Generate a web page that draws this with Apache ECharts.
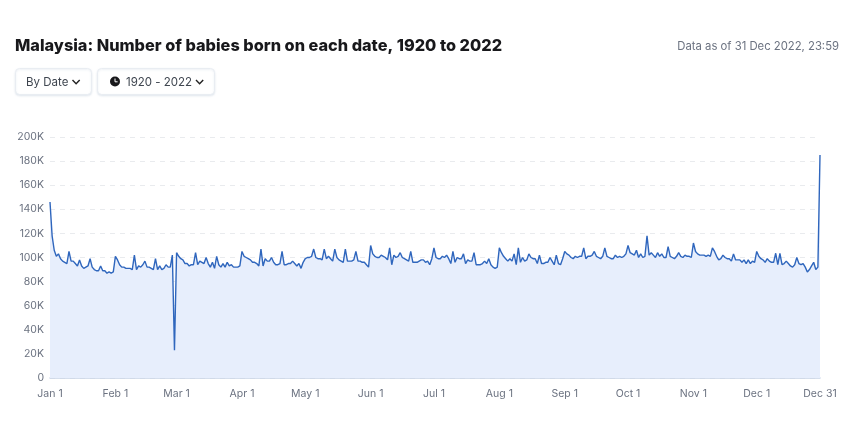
<!DOCTYPE html>
<html><head><meta charset="utf-8">
<style>html,body{margin:0;padding:0;background:#fff}#c{width:857px;height:436px}</style>
<script src="https://cdn.jsdelivr.net/npm/echarts@6/dist/echarts.min.js"></script>
</head><body><div id="c"></div>
<script>
const monthNames = ['Jan','Feb','Mar','Apr','May','Jun','Jul','Aug','Sep','Oct','Nov','Dec'];
const jan = [146,118,106,101,103,99,97,96,95,105,97,97,95,93,98,93,91,92,93,99,92,90,89,89,93,89,89,87,88,87,88];
const feb = [101,98,94,92,92,91,91,91,90,102,90,93,92,94,97,92,92,91,90,99,90,93,90,91,94,92,92,102,23];
const mar = [104,101,99,98,95,95,93,94,94,104,94,97,96,95,100,95,92,96,91,101,94,92,95,92,96,93,94,92,92,92,93];
const apr = [105,101,100,99,98,96,96,95,93,107,93,99,97,97,100,96,94,94,95,105,94,94,95,95,97,95,93,95,91,96];
const may = [99,100,100,101,107,100,99,99,98,107,99,101,99,97,107,100,98,97,96,107,97,97,97,98,105,97,97,96,96,94,92];
const jun = [110,103,101,100,100,102,101,100,98,108,94,102,100,101,104,100,99,98,97,105,96,96,96,97,98,98,96,97,94,99];
const jul = [108,100,99,99,101,100,102,99,95,105,96,100,99,99,103,95,98,97,97,104,94,94,94,95,97,95,99,94,92,91,92];
const aug = [108,104,101,99,97,99,97,103,94,108,96,100,97,98,103,100,99,99,95,102,95,95,96,96,100,97,94,102,95,94,99];
const sep = [105,103,102,100,99,101,100,101,101,108,99,101,101,102,105,101,100,99,101,108,101,100,99,99,102,100,101,100,101,103];
const oct = [110,104,103,102,106,100,103,100,101,118,102,104,102,100,104,101,103,100,100,109,101,100,99,101,104,101,100,102,101,101,100];
const nov = [112,105,103,102,102,102,101,102,101,108,105,101,98,99,102,100,99,99,97,103,98,98,98,96,98,95,98,95,97,96];
const dec = [105,101,99,98,96,99,97,96,96,103.5,94,103.5,94,95,97,95,93,92,94,100,95,94,95,92,88,90,93,96,90,92,185];
const months = [jan,feb,mar,apr,may,jun,jul,aug,sep,oct,nov,dec];
const categories = [], values = [];
months.forEach((m,i)=>m.forEach((v,d)=>{categories.push(monthNames[i]+' '+(d+1)); values.push(v*1000);}));

const uiFont = 'Inter, "Noto Sans", sans-serif';
const gray = '#6b7280';
const btn = (x,w)=>({type:'rect',shape:{x:x+.5,y:68.5,width:w,height:26,r:4},
  style:{fill:'#fff',stroke:'#e9edf2',lineWidth:1,shadowBlur:2,shadowOffsetY:1,shadowColor:'rgba(170,185,205,.3)'}});
const txt = (x,t)=>({type:'text',x,y:82.5,style:{text:t,font:'11.5px '+uiFont,fill:'#3f4650',textVerticalAlign:'middle'}});
const chev = (x)=>({type:'polyline',shape:{points:[[x,80],[x+3.6,83.8],[x+7.2,80]]},style:{stroke:'#222',fill:null,lineWidth:1.4}});

const chart = echarts.init(document.getElementById('c'),null,{renderer:'canvas'});
chart.setOption({
  animation:false,
  title:[
    {text:'Malaysia: Number of babies born on each date, 1920 to 2022',left:15,top:38,padding:0,
     textStyle:{fontFamily:'Inter',fontWeight:800,fontSize:16.3,color:'#18181b'}},
    {text:'Data as of 31 Dec 2022, 23:59',right:18,top:41,padding:0,
     textStyle:{fontFamily:uiFont,fontWeight:'normal',fontSize:11.3,color:gray}}
  ],
  grid:{left:50,right:37,top:137,bottom:58,containLabel:false},
  xAxis:{type:'category',boundaryGap:false,data:categories,
    axisTick:{show:false},
    axisLine:{show:true,lineStyle:{color:'#c7d3e6',width:1.5}},
    splitLine:{show:false},
    axisLabel:{color:gray,fontFamily:uiFont,fontSize:10.5,margin:10,hideOverlap:false,
      interval:(i,v)=>/ 1$/.test(v)||v==='Dec 31',
      formatter:v=>v}},
  yAxis:{type:'value',min:0,max:200000,interval:20000,
    axisLine:{show:false},axisTick:{show:false},
    splitLine:{lineStyle:{type:[5,5],color:'#e9ebee',width:1}},
    axisLabel:{color:gray,fontFamily:uiFont,fontSize:10.5,margin:6,
      formatter:v=>v===0?'0':(v/1000)+'K'}},
  series:[{type:'line',data:values,symbol:'none',smooth:false,
    lineStyle:{color:'#2f66bd',width:1.4},
    areaStyle:{color:'#e7eefc',opacity:1},z:2}],
  graphic:[
    btn(15,76),txt(26,'By Date'),chev(72.5),
    btn(97,117),
    {type:'circle',shape:{cx:115,cy:81.5,r:5},style:{fill:'#18181b'}},
    {type:'polyline',shape:{points:[[115,78.5],[115,81.8],[117.6,81.8]]},style:{stroke:'#fff',fill:null,lineWidth:1}},
    txt(126,'1920 - 2022'),chev(196)
  ]
});
</script></body></html>
